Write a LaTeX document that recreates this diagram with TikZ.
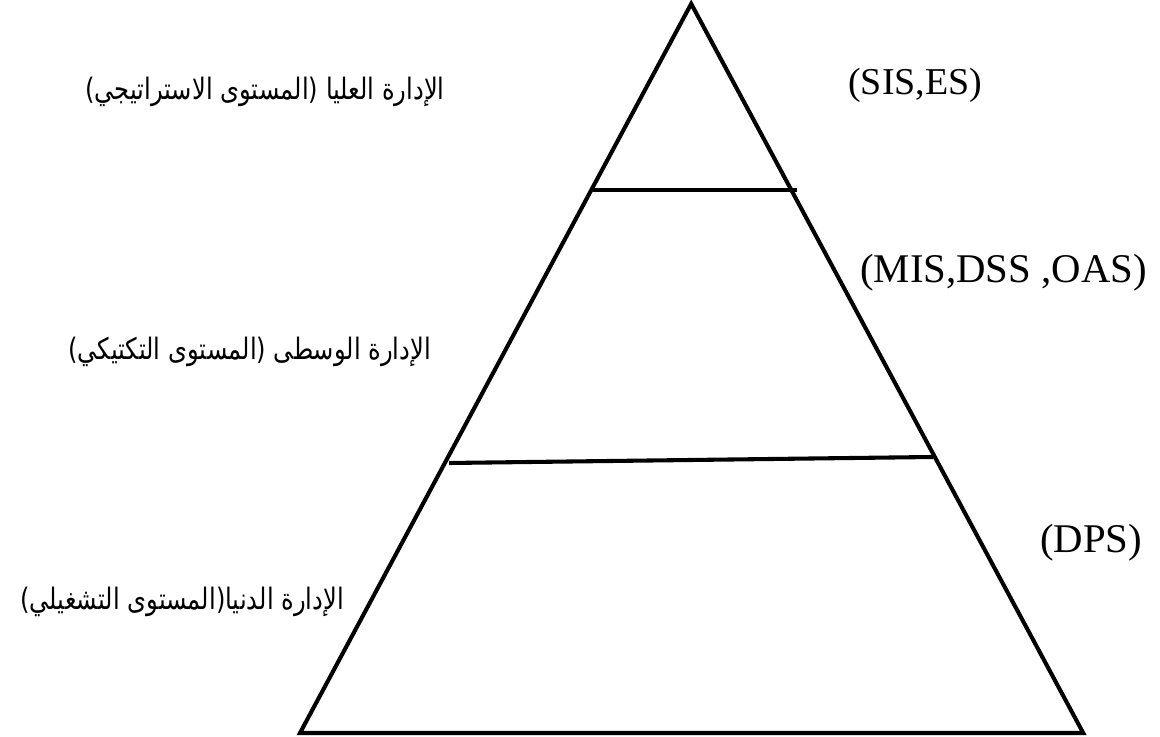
\documentclass[tikz,border=0pt]{standalone}
\usepackage{fontspec}
\setmainfont{Liberation Serif}
\newfontfamily\arabicfont[Script=Arabic,FakeStretch=0.82]{DejaVu Sans}
\TeXXeTstate=1

\begin{document}
\begin{tikzpicture}
\useasboundingbox (0,0) rectangle (29,18.425);
\tikzstyle{LevelLine}=[line width=2.9pt,line join=miter]
\tikzstyle{RoleText}=[anchor=west,inner sep=0pt,font=\arabicfont\fontsize{21}{25}\selectfont]
\tikzstyle{SysText}=[anchor=west,inner sep=0pt,font=\fontsize{27}{32}\selectfont]

\coordinate (apex) at (17.28,18.33);
\coordinate (bl) at (7.5,0.1);
\coordinate (br) at (27.08,0.1);

\coordinate (u1) at (14.83,13.68);
\coordinate (u2) at (19.93,13.68);
\coordinate (m1) at (11.23,6.85);
\coordinate (m2) at (23.33,7.0);

\draw[LevelLine] (apex) -- (br) -- (bl) -- cycle;
\draw[LevelLine] (u1) -- (u2);
\draw[LevelLine] (m1) -- (m2);

\node[RoleText] (topL) at (2.125,16.125) {\beginR الإدارة العليا (المستوى الاستراتيجي)\endR};
\node[RoleText] (midL) at (1.7,9.625) {\beginR الإدارة الوسطى (المستوى التكتيكي)\endR};
\node[RoleText] (lowL) at (0.5,3.375) {\beginR الإدارة الدنيا(المستوى التشغيلي)\endR};

\node[SysText] (topR) at (21.2,16.3) {(SIS,ES)};
\node[SysText,font=\fontsize{29}{34}\selectfont] (midR) at (21.5,11.6) {(MIS,DSS ,OAS)};
\node[SysText,font=\fontsize{29}{34}\selectfont] (lowR) at (26.0,4.85) {(DPS)};

\end{tikzpicture}
\end{document}
